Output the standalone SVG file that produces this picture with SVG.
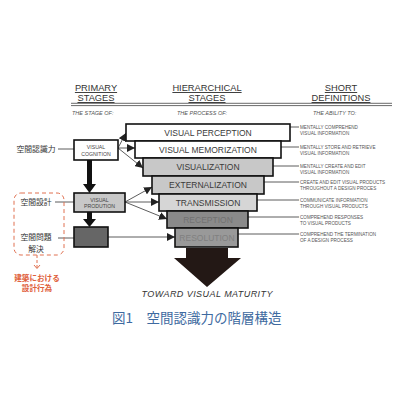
<svg xmlns="http://www.w3.org/2000/svg" width="400" height="400" viewBox="0 0 400 400">
<defs>
<style>
.hdr{font-family:"Liberation Sans",Arial,sans-serif;font-size:9.3px;fill:#333;text-anchor:middle;text-decoration:underline}
.sub{font-family:"Liberation Sans",Arial,sans-serif;font-size:5.5px;fill:#555;font-style:italic}
.box{stroke:#111;stroke-width:1.6}
.bt{font-family:"Liberation Sans",Arial,sans-serif;font-size:8.5px;fill:#3a3a3a;text-anchor:middle}
.st{font-family:"Liberation Sans",Arial,sans-serif;font-size:5.2px;fill:#444;text-anchor:middle}
.def{font-family:"Liberation Sans",Arial,sans-serif;font-size:4.6px;fill:#555}
.jp{font-family:"Noto Sans CJK JP",sans-serif;font-size:7.8px;fill:#333;text-anchor:middle}
.jr{font-family:"Noto Sans CJK JP",sans-serif;font-size:7.6px;fill:#e0603a;text-anchor:middle;font-weight:bold}
.ln{stroke:#333;stroke-width:0.8;fill:none}
.ar{stroke:#333;stroke-width:0.8;fill:none;marker-end:url(#ah)}
</style>
<marker id="ah" viewBox="0 0 10 10" refX="10" refY="5" markerWidth="8" markerHeight="8" markerUnits="userSpaceOnUse" orient="auto">
<path d="M0,0 L10,5 L0,10 z" fill="#222"/>
</marker>
</defs>
<rect width="400" height="400" fill="#fff"/>

<g id="headers">
<text class="hdr" x="96" y="91">PRIMARY</text>
<text class="hdr" x="96" y="101">STAGES</text>
<text class="hdr" x="207" y="91">HIERARCHICAL</text>
<text class="hdr" x="207" y="101">STAGES</text>
<text class="hdr" x="341" y="91">SHORT</text>
<text class="hdr" x="341" y="101">DEFINITIONS</text>
<line x1="71" y1="103.3" x2="392" y2="103.3" stroke="#444" stroke-width="0.8"/>
<line x1="71" y1="105.6" x2="392" y2="105.6" stroke="#444" stroke-width="0.8"/>
<text class="sub" x="72" y="115">THE STAGE OF:</text>
<text class="sub" x="177" y="115">THE PROCESS OF:</text>
<text class="sub" x="313" y="115">THE ABILITY TO:</text>
</g>

<g id="connectors">
<line class="ln" x1="290" y1="127" x2="299" y2="127"/>
<line class="ln" x1="281" y1="147" x2="299" y2="147"/>
<line class="ln" x1="273" y1="166" x2="299" y2="166"/>
<line class="ln" x1="264" y1="182" x2="299" y2="182"/>
<line class="ln" x1="257" y1="200" x2="299" y2="200"/>
<line class="ln" x1="248" y1="217" x2="299" y2="217"/>
<line class="ln" x1="238" y1="234" x2="299" y2="234"/>
<line class="ar" x1="118" y1="148" x2="126" y2="133"/>
<line class="ar" x1="118" y1="148" x2="135" y2="148"/>
<line class="ar" x1="118" y1="148" x2="143" y2="168"/>
<line class="ar" x1="125" y1="202" x2="152" y2="187"/>
<line class="ar" x1="125" y1="202" x2="159" y2="202"/>
<line class="ar" x1="125" y1="202" x2="167" y2="219"/>
<line class="ar" x1="108" y1="237" x2="175" y2="237"/>
<line class="ln" x1="58" y1="149" x2="74" y2="149"/>
<line class="ln" x1="55" y1="202" x2="74" y2="202"/>
<line class="ln" x1="58" y1="238" x2="74" y2="238"/>
<path d="M87,160 H92 V184 H96 L89.5,193 L83,184 H87 Z" fill="#111"/>
<path d="M87,212 H92 V219 H96 L89.5,227 L83,219 H87 Z" fill="#111"/>
<path d="M186,248 H228 V258 H241 L207,287 L174,258 H186 Z" fill="#231815"/>
<line x1="37" y1="255" x2="37" y2="268" stroke="#e07050" stroke-width="1" stroke-dasharray="3,2"/>
<path d="M34,265 L37,268.5 L40,265" fill="none" stroke="#e07050" stroke-width="1"/>
</g>

<g id="perception"><rect class="box" x="126" y="124" width="164" height="17" fill="#fff"/><text class="bt" x="208" y="136">VISUAL PERCEPTION</text></g>
<g id="memorization"><rect class="box" x="135" y="141" width="146" height="17" fill="#fff"/><text class="bt" x="208" y="153">VISUAL MEMORIZATION</text></g>
<g id="visualization"><rect class="box" x="143" y="158" width="130" height="18" fill="#c8c8c8"/><text class="bt" x="208" y="170">VISUALIZATION</text></g>
<g id="externalization"><rect class="box" x="152" y="176" width="112" height="18" fill="#c8c8c8"/><text class="bt" x="208" y="188">EXTERNALIZATION</text></g>
<g id="transmission"><rect class="box" x="159" y="194" width="98" height="17" fill="#d6d6d6"/><text class="bt" x="208" y="206">TRANSMISSION</text></g>
<g id="reception"><rect class="box" x="167" y="211" width="81" height="17" fill="#8a8a8a"/><text class="bt" x="208" y="223" style="fill:#727272">RECEPTION</text></g>
<g id="resolution"><rect class="box" x="175" y="228" width="63" height="19" fill="#999"/><text class="bt" x="207" y="241" style="fill:#808080">RESOLUTION</text></g>

<g id="def-text">
<text class="def" x="300" y="129">MENTALLY COMPREHEND</text><text class="def" x="300" y="135">VISUAL INFORMATION</text>
<text class="def" x="300" y="149">MENTALLY STORE AND RETRIEVE</text><text class="def" x="300" y="155">VISUAL INFORMATION</text>
<text class="def" x="300" y="168">MENTALLY CREATE AND EDIT</text><text class="def" x="300" y="174">VISUAL INFORMATION</text>
<text class="def" x="300" y="184">CREATE AND EDIT VISUAL PRODUCTS</text><text class="def" x="300" y="190">THROUGHOUT A DESIGN PROCES</text>
<text class="def" x="300" y="202">COMMUNICATE INFORMATION</text><text class="def" x="300" y="208">THROUGH VISUAL PRODUCTS</text>
<text class="def" x="300" y="219">COMPREHEND RESPONSES</text><text class="def" x="300" y="225">TO VISUAL PRODUCTS</text>
<text class="def" x="300" y="236">COMPREHEND THE TERMINATION</text><text class="def" x="300" y="242">OF A DESIGN PROCESS</text>
</g>

<g id="cognition"><rect class="box" x="74" y="140" width="44" height="20" fill="#fff"/><text class="st" x="96" y="149">VISUAL</text><text class="st" x="96" y="156">COGNITION</text></g>
<g id="production"><rect class="box" x="74" y="193" width="51" height="19" fill="#c8c8c8"/><text class="st" x="99.5" y="201.5">VISUAL</text><text class="st" x="99.5" y="208">PRODUTION</text></g>
<g id="solving"><rect class="box" x="74" y="227" width="34" height="20" fill="#666"/></g>

<g id="jp-labels">
<text class="jp" x="36" y="152">空間認識力</text>
<text class="jp" x="36" y="205">空間設計</text>
<text class="jp" x="36" y="240">空間問題</text>
<text class="jp" x="36" y="251.5">解決</text>
</g>

<g id="design-act">
<rect x="14" y="193" width="50" height="62" rx="7" fill="none" stroke="#e07050" stroke-width="1" stroke-dasharray="4,3"/>
<text class="jr" x="37" y="281">建築における</text>
<text class="jr" x="37" y="291">設計行為</text>
</g>

<text x="207" y="297" font-family="'Liberation Sans',Arial,sans-serif" font-size="9" font-style="italic" fill="#333" text-anchor="middle" textLength="131">TOWARD VISUAL MATURITY</text>
<text x="112" y="323" font-family="'Noto Sans CJK JP',sans-serif" font-size="13.5" fill="#3e6aa0">図1　空間認識力の階層構造</text>
</svg>
